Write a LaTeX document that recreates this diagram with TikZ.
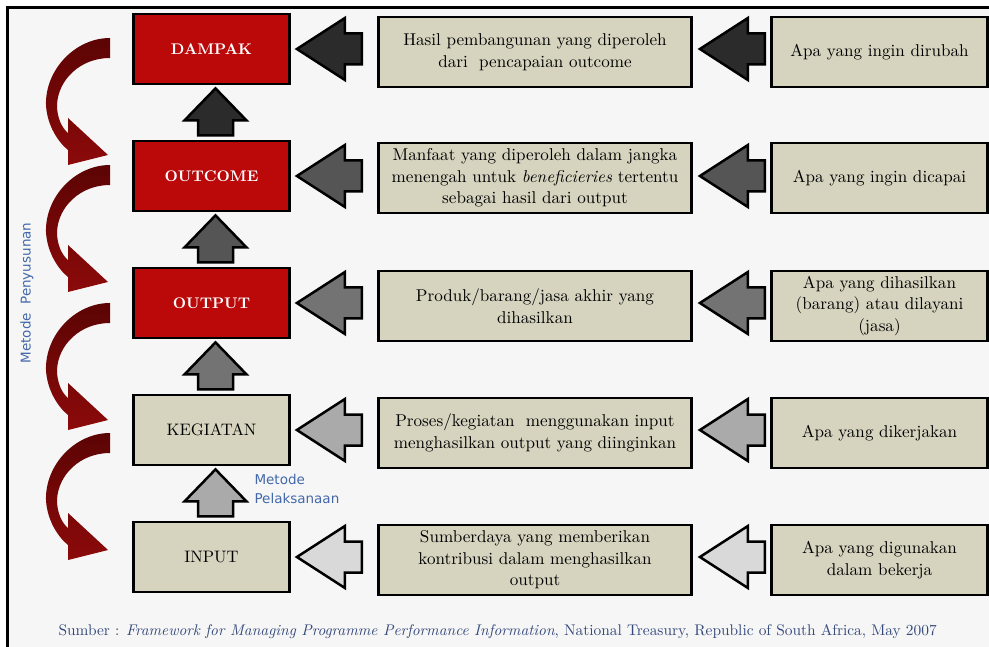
\documentclass[tikz,border=0pt]{standalone}
\usepackage{fontspec}
\setmainfont{lmroman10-regular.otf}[BoldFont=lmroman10-bold.otf,
  ItalicFont=lmroman10-italic.otf]
\usetikzlibrary{shapes,arrows,positioning,calc}
\newfontfamily\labelsans{DejaVu Sans}
\definecolor{boxred}{RGB}{187,8,8}
\definecolor{boxbeige}{RGB}{214,211,191}
\definecolor{curvetop}{RGB}{92,4,4}
\definecolor{curvebot}{RGB}{140,10,10}
\definecolor{shadeA}{RGB}{43,43,43}
\definecolor{shadeB}{RGB}{85,85,85}
\definecolor{shadeC}{RGB}{115,115,115}
\definecolor{shadeD}{RGB}{170,170,170}
\definecolor{shadeE}{RGB}{217,217,217}
\definecolor{notesblue}{RGB}{66,104,170}
\definecolor{sourceblue}{RGB}{52,72,122}
\definecolor{panelgray}{RGB}{246,246,246}
% curved arrow on the left, shifted down by #1
\newcommand{\redcurve}[1]{%
  \shade[top color=curvetop, bottom color=curvebot, yshift=-#1pt]
    (110,38) .. controls (75,38) and (45,70) .. (46,105)
    .. controls (47,125) and (58,142) .. (68,150) -- (68,165) -- (108,155)
    -- (68,118) -- (68,133) .. controls (62,128) and (57,118) .. (57,105)
    .. controls (58,80) and (80,58) .. (110,58) -- cycle;}
% block arrow pointing left, tip at #2
\newcommand{\leftblock}[2]{%
  \draw[blockarrow, fill=#1] #2 -- ++(48,-31) -- ++(0,15.5) -- ++(17,0)
    -- ++(0,31) -- ++(-17,0) -- ++(0,15.5) -- cycle;}
% block arrow pointing up, tip at #2
\newcommand{\upblock}[2]{%
  \draw[blockarrow, fill=#1] #2 -- ++(-31,32) -- ++(13.5,0) -- ++(0,15)
    -- ++(35,0) -- ++(0,-15) -- ++(13.5,0) -- cycle;}

\begin{document}
\begin{tikzpicture}[x=1pt, y=-1pt, node distance=127pt,
    redbox/.style={draw=black, line width=2.8pt, fill=boxred, text=white,
      minimum width=156pt, minimum height=70pt,
      font=\fontsize{15.4}{19}\selectfont\bfseries},
    levelbox/.style={redbox, fill=boxbeige, text=black,
      font=\fontsize{16.6}{20}\selectfont},
    descbox/.style={draw=black, line width=2.8pt, fill=boxbeige,
      minimum width=313pt, minimum height=70pt, align=center,
      inner sep=2pt, font=\fontsize{17.1}{21.5}\selectfont},
    askbox/.style={descbox, minimum width=216pt},
    blockarrow/.style={draw=black, line width=2.5pt, line join=miter}]

  \useasboundingbox (0,0) rectangle (989,647);
  \clip (0,0) rectangle (989,647);
  \fill[white] (0,0) rectangle (989,647);
  \fill[panelgray] (7,8) rectangle (989,647);
  \draw[line width=3pt] (7,647) -- (7,8) -- (989,8);

  % levels
  \node[redbox] at (211.5,49) (dampak) {DAMPAK};
  \node[redbox, below of=dampak] (outcome) {OUTCOME};
  \node[redbox, below of=outcome] (output) {OUTPUT};
  \node[levelbox, below of=output] (kegiatan) {KEGIATAN};
  \node[levelbox, below of=kegiatan] (input) {INPUT};

  % descriptions
  \node[descbox, right of=dampak, node distance=323.5pt, yshift=-3pt] (hasil)
    {Hasil pembangunan yang diperoleh\\dari~ pencapaian outcome};
  \node[descbox, right of=outcome, node distance=323.5pt, yshift=-2pt] (manfaat)
    {Manfaat yang diperoleh dalam jangka\\menengah untuk \textit{beneficieries} tertentu\\sebagai hasil dari output};
  \node[descbox, right of=output, node distance=323.5pt, yshift=-3pt] (produk)
    {Produk/barang/jasa akhir yang\\dihasilkan};
  \node[descbox, right of=kegiatan, node distance=323.5pt, yshift=-3pt] (proses)
    {Proses/kegiatan~ menggunakan input\\menghasilkan output yang diinginkan};
  \node[descbox, right of=input, node distance=323.5pt, yshift=-3pt] (sumberdaya)
    {Sumberdaya yang memberikan\\kontribusi dalam menghasilkan\\output};

  % questions
  \node[askbox, right of=hasil, node distance=344.5pt] (dirubah) {Apa yang ingin dirubah};
  \node[askbox, right of=manfaat, node distance=344.5pt] (dicapai) {Apa yang ingin dicapai};
  \node[askbox, right of=produk, node distance=344.5pt] (dihasilkan)
    {Apa yang dihasilkan\\(barang) atau dilayani\\(jasa)};
  \node[askbox, right of=proses, node distance=344.5pt] (dikerjakan) {Apa yang dikerjakan};
  \node[askbox, right of=sumberdaya, node distance=344.5pt] (digunakan)
    {Apa yang digunakan\\dalam bekerja};

  % block arrows
  \leftblock{shadeA}{([xshift=6pt]dampak.east)}
  \leftblock{shadeB}{([xshift=6pt]outcome.east)}
  \leftblock{shadeC}{([xshift=6pt]output.east)}
  \leftblock{shadeD}{([xshift=6pt]kegiatan.east)}
  \leftblock{shadeE}{([xshift=6pt]input.east)}

  \leftblock{shadeA}{($(hasil.east |- dampak.east)+(7,0)$)}
  \leftblock{shadeB}{($(manfaat.east |- outcome.east)+(7,0)$)}
  \leftblock{shadeC}{($(produk.east |- output.east)+(7,0)$)}
  \leftblock{shadeD}{($(proses.east |- kegiatan.east)+(7,0)$)}
  \leftblock{shadeE}{($(sumberdaya.east |- input.east)+(7,0)$)}

  \upblock{shadeA}{($(dampak.south)+(4,3)$)}
  \upblock{shadeB}{($(outcome.south)+(4,3)$)}
  \upblock{shadeC}{($(output.south)+(4,3)$)}
  \upblock{shadeD}{($(kegiatan.south)+(4,3)$)}

  % curved arrows
  \redcurve{0}
  \redcurve{127}
  \redcurve{265}
  \redcurve{395}

  \node[rotate=90, text=notesblue, font=\labelsans\fontsize{13.5}{15}\selectfont]
    (penyusunan) at (27,293) {Metode~ Penyusunan};
  \node[anchor=north west, align=left, text=notesblue,
    font=\labelsans\fontsize{13.5}{19}\selectfont]
    (pelaksanaan) at (251,471) {Metode\\Pelaksanaan};

  \node[anchor=west, text=sourceblue, font=\fontsize{15.4}{18}\selectfont]
    (sumber) at (55,632)
    {Sumber : \textit{Framework for Managing Programme Performance Information}, National Treasury, Republic of South Africa, May 2007};
\end{tikzpicture}
\end{document}
